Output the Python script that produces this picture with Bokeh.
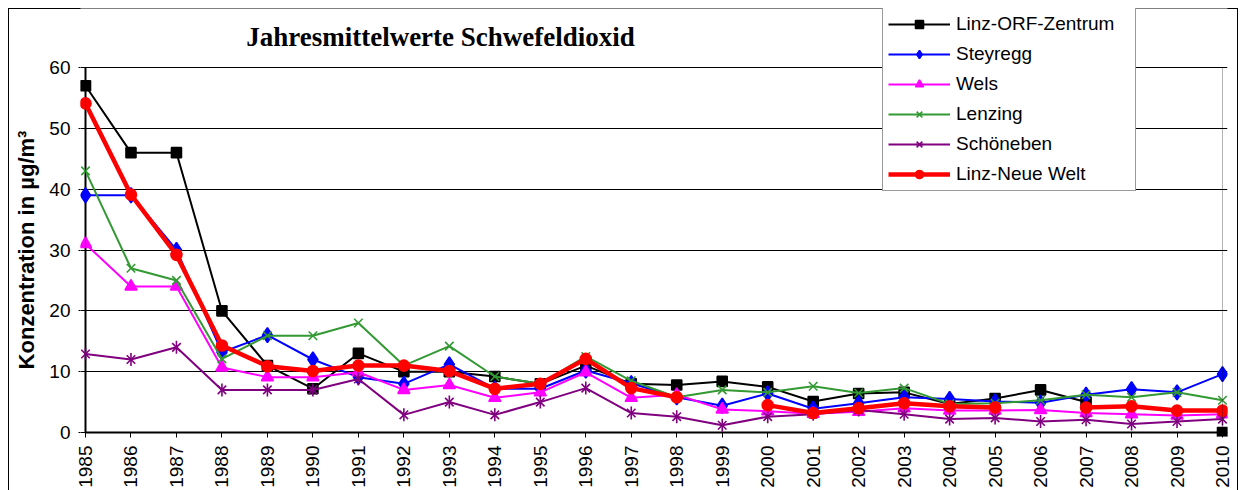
import math
from bokeh.plotting import figure
from bokeh.models import Range1d, Legend, LegendItem, Label, FixedTicker, BoxAnnotation
from bokeh.embed import file_html
from bokeh.resources import INLINE

nan = float("nan")
years = list(range(1985, 2011))
y_ticks = [0, 10, 20, 30, 40, 50, 60]

linz_orf = [57, 46, 46, 20, 11, 7.2, 13, 10, 10, 9.2, 8, 11, 8, 7.8, 8.4, 7.5,
            5.1, 6.4, 6.6, 4.7, 5.6, 7.0, 5.0, nan, nan, 0]
steyregg = [39, 39, 30, 13.2, 16, 12, 9.1, 8, 11.2, 7.2, 7.2, 10.2, 8.1, 5.8, 4.4, 6.4,
            3.9, 4.8, 5.8, 5.5, 5.1, 4.9, 6.2, 7.1, 6.6, 9.6]
wels = [31, 24, 24, 10.7, 9.1, 9.1, 9.9, 7, 7.8, 5.7, 6.6, 9.9, 5.7, 6.2, 3.8, 3.5,
        3.1, 3.4, 4.0, 3.6, 3.6, 3.7, 3.2, 3.0, 2.8, 3.0]
lenzing = [43, 27, 25, 12.1, 15.9, 15.9, 18, 11, 14.2, 9.2, 8, 12.5, 8.5, 5.8, 7.0, 6.6,
           7.6, 6.5, 7.3, 4.7, 4.8, 5.3, 6.2, 5.8, 6.6, 5.3]
schoeneben = [12.9, 12, 14, 7, 7, 7, 8.8, 2.9, 5, 2.9, 5, 7.3, 3.2, 2.6, 1.2, 2.6,
              3.0, 3.7, 3.0, 2.2, 2.4, 1.8, 2.1, 1.4, 1.8, 2.2]
neue_welt = [54.1, 39.1, 29.2, 14.3, 10.9, 10.1, 11, 11, 10.1, 7.2, 8, 12.1, 7.3, 5.8, nan, 4.5,
             3.2, 4.0, 4.8, 4.3, 4.1, nan, 4.1, 4.3, 3.6, 3.6]

series_names = ["Linz-ORF-Zentrum", "Steyregg", "Wels", "Lenzing", "Schöneben", "Linz-Neue Welt"]
title_text = "Jahresmittelwerte Schwefeldioxid"
y_label = "Konzentration in µg/m³"

SANS = "Liberation Sans"
SERIF = "Liberation Serif"

# page geometry (figure placed at 8,8 by its margin)
px_x = 1137 / 25.0          # pixels per year
px_y = 365 / 60.0           # pixels per unit
x0 = 1985 - 5 / px_x
x1 = 2010 + 5 / px_x
y0 = -4 / px_y
y1 = (432 - 8) / px_y

p = figure(width=1230, height=482, output_backend="svg", toolbar_location=None, title=None,
           x_range=Range1d(x0, x1), y_range=Range1d(y0, y1),
           min_border_left=72, min_border_right=11, min_border_top=0, min_border_bottom=54)
p.margin = (8, 0, 0, 8)
p.styles = {"box-shadow": "inset 1px 1px 0 0 #000000, inset -1px 0 0 0 #000000",
            "background-color": "white"}
p.outline_line_color = None
p.background_fill_color = "white"
p.border_fill_color = None

# axes
p.xaxis.ticker = FixedTicker(ticks=years)
p.xaxis.major_label_orientation = math.pi / 2
p.xaxis.major_label_text_font = SANS
p.xaxis.major_label_text_font_size = "19px"
p.xaxis.major_label_text_color = "black"
p.xaxis.major_label_standoff = 8
p.xaxis.major_tick_in = 4
p.xaxis.major_tick_out = 1
p.xaxis.minor_tick_line_color = None
p.xaxis.axis_line_color = None
p.xaxis.major_tick_line_color = "black"

p.yaxis.ticker = FixedTicker(ticks=y_ticks)
p.yaxis.major_label_text_font = SANS
p.yaxis.major_label_text_font_size = "19px"
p.yaxis.major_label_text_color = "black"
p.yaxis.major_label_standoff = 8
p.yaxis.major_tick_in = 0
p.yaxis.major_tick_out = 2
p.yaxis.minor_tick_line_color = None
p.yaxis.axis_line_color = None
p.yaxis.major_tick_line_color = "black"
p.yaxis.axis_label = y_label + "\u00a0" * 9
p.yaxis.axis_label_text_font = SANS
p.yaxis.axis_label_text_font_size = "22px"
p.yaxis.axis_label_text_font_style = "bold"
p.yaxis.axis_label_text_color = "black"
p.yaxis.axis_label_standoff = 7

p.xgrid.grid_line_color = None
p.ygrid.ticker = FixedTicker(ticks=y_ticks)
p.ygrid.grid_line_color = "black"
p.ygrid.grid_line_width = 1

# plot-area frame
p.add_layout(BoxAnnotation(left=years[0], right=years[-1], bottom=y_ticks[0], top=y_ticks[-1],
                           fill_color=None, line_color="black", line_width=1))
p.segment(x0=[years[0], years[0]], y0=[y_ticks[0], y_ticks[0]],
          x1=[years[0], years[-1]], y1=[y_ticks[-1], y_ticks[0]],
          line_color="black", line_width=2)

items = []

def add_series(name, vals, color, lw, marker, size, extra=None):
    r_line = p.line(years, vals, line_color=color, line_width=lw)
    r_m = p.scatter(years, vals, marker=marker, size=size, fill_color=color,
                    line_color=color, line_width=1.6)
    rs = [r_line, r_m]
    if extra is not None:
        r_e = p.scatter(years, vals, marker="dash", size=extra, angle=math.pi / 2,
                        line_color=color, line_width=1.6)
        rs.append(r_e)
    items.append(LegendItem(label=name, renderers=rs))

add_series(series_names[0], linz_orf, "#000000", 2, "square", 10)
add_series(series_names[1], steyregg, "#0000FF", 2, "diamond", 15)
add_series(series_names[2], wels, "#FF00FF", 2, "triangle", 12)
add_series(series_names[3], lenzing, "#339933", 2, "x", 12)
add_series(series_names[4], schoeneben, "#800080", 2, "x", 12, extra=13)
add_series(series_names[5], neue_welt, "#FF0000", 4.5, "circle", 11)

legend = Legend(items=items, location=(802, 245))
legend.label_text_font = SANS
legend.label_text_font_size = "19px"
legend.label_text_color = "black"
legend.label_height = 20
legend.glyph_height = 20
legend.glyph_width = 62
legend.label_standoff = 6
legend.label_width = 174
legend.spacing = 8
legend.padding = 5
legend.margin = 0
legend.border_line_color = "#333333"
legend.border_line_width = 1
legend.background_fill_color = "white"
legend.background_fill_alpha = 1
p.add_layout(legend, "center")

title = Label(x=1985 + (440 - 85) / px_x, y=(432 - 36) / px_y, text=title_text,
              text_align="center", text_baseline="alphabetic",
              text_font=SERIF, text_font_size="27px", text_font_style="bold",
              text_color="black")
p.add_layout(title)

open("out.html", "w").write(file_html(p, INLINE))
